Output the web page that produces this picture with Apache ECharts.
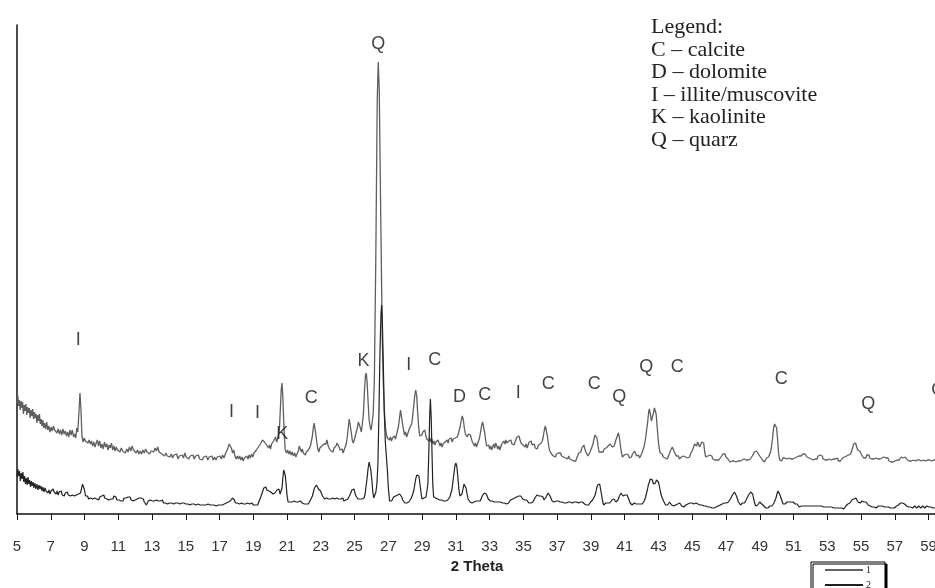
<!DOCTYPE html>
<html>
<head>
<meta charset="utf-8">
<title>XRD patterns</title>
<script src="https://cdn.jsdelivr.net/npm/echarts@6/dist/echarts.min.js"></script>
<style>
  html, body { margin: 0; padding: 0; background: #fff; }
  #main { width: 935px; height: 588px; }
</style>
</head>
<body>
<div id="main"></div>
<script type="text/javascript">
    // pattern 1 (upper, grey): [2 theta, intensity]
    var pattern1 = [
        [5.00,111],[5.05,118],[5.10,108],[5.14,114],[5.19,104],[5.24,113],[5.29,106],[5.33,112],[5.38,100],[5.43,109],
        [5.48,103],[5.53,110],[5.58,99],[5.63,107],[5.68,101],[5.73,106],[5.78,96],[5.83,104],[5.88,98],[5.93,105],
        [5.98,95],[6.03,102],[6.08,96],[6.13,100],[6.18,91],[6.23,99],[6.28,93],[6.33,100],[6.38,90],[6.43,95],
        [6.48,88],[6.53,94],[6.58,86],[6.63,91],[6.70,85],[6.76,92],[6.82,84],[6.88,88],[6.95,82],[7.02,87],
        [7.09,83],[7.16,88],[7.23,84],[7.30,86],[7.37,81],[7.44,85],[7.51,80],[7.58,84],[7.65,79],[7.72,85],
        [7.79,80],[7.86,83],[7.93,78],[8.00,82],[8.07,77],[8.14,84],[8.21,79],[8.28,84],[8.35,77],[8.42,80],
        [8.48,76],[8.54,86],[8.60,82],[8.66,99],[8.73,121],[8.79,104],[8.85,77],[8.92,72],[8.98,76],[9.05,73],
        [9.12,75],[9.20,71],[9.27,74],[9.34,70],[9.41,73],[9.48,68],[9.55,72],[9.62,67],[9.69,71],[9.76,74],
        [9.83,68],[9.90,73],[9.97,66],[10.04,70],[10.11,65],[10.18,72],[10.25,67],[10.32,70],[10.39,64],[10.46,69],
        [10.53,66],[10.60,71],[10.67,64],[10.74,68],[10.81,63],[10.88,67],[10.95,64],[11.02,66],[11.10,62],[11.18,66],
        [11.26,63],[11.34,65],[11.42,61],[11.50,65],[11.58,62],[11.66,67],[11.74,63],[11.82,68],[11.90,64],[11.98,66],
        [12.06,61],[12.14,64],[12.22,60],[12.30,63],[12.38,60],[12.46,64],[12.54,61],[12.62,65],[12.70,62],[12.78,64],
        [12.86,60],[12.94,63],[13.02,65],[13.10,62],[13.18,66],[13.26,63],[13.34,67],[13.42,62],[13.50,64],[13.58,60],
        [13.66,62],[13.74,58],[13.82,61],[13.90,58],[13.98,60],[14.06,57],[14.14,60],[14.22,56],[14.30,59],[14.38,57],
        [14.46,60],[14.54,55],[14.62,58],[14.70,56],[14.78,59],[14.86,56],[14.94,61],[15.02,57],[15.10,59],[15.18,55],
        [15.26,58],[15.34,56],[15.42,59],[15.50,55],[15.58,58],[15.66,56],[15.74,59],[15.82,55],[15.90,57],[15.98,54],
        [16.06,57],[16.14,55],[16.22,58],[16.30,54],[16.38,57],[16.46,55],[16.54,58],[16.62,54],[16.70,57],[16.78,54],
        [16.86,57],[16.94,55],[17.02,58],[17.10,55],[17.18,59],[17.26,56],[17.34,60],[17.42,62],[17.50,66],[17.57,70],
        [17.63,72],[17.70,66],[17.77,61],[17.84,64],[17.91,58],[17.98,55],[18.05,58],[18.12,55],[18.19,58],[18.26,54],
        [18.33,57],[18.40,53],[18.47,56],[18.54,54],[18.61,58],[18.68,55],[18.75,59],[18.82,56],[18.90,60],[18.97,57],
        [19.04,61],[19.11,59],[19.18,64],[19.24,62],[19.30,67],[19.36,65],[19.42,70],[19.48,68],[19.54,74],[19.60,76],
        [19.66,72],[19.72,74],[19.78,69],[19.84,71],[19.90,66],[19.96,69],[20.02,65],[20.08,70],[20.14,68],[20.20,73],
        [20.26,71],[20.32,77],[20.38,72],[20.44,75],[20.50,80],[20.55,86],[20.60,105],[20.65,124],[20.70,131],[20.74,120],
        [20.78,102],[20.83,80],[20.89,64],[20.96,61],[21.03,64],[21.10,60],[21.17,63],[21.24,59],[21.31,62],[21.38,58],
        [21.45,61],[21.52,57],[21.59,60],[21.66,63],[21.72,68],[21.78,66],[21.84,62],[21.90,65],[21.96,61],[22.02,63],
        [22.08,59],[22.14,62],[22.20,60],[22.26,64],[22.32,63],[22.38,68],[22.44,70],[22.50,78],[22.55,86],[22.60,91],
        [22.65,89],[22.70,80],[22.76,72],[22.82,65],[22.88,62],[22.94,66],[23.00,64],[23.06,68],[23.12,66],[23.18,70],
        [23.24,72],[23.30,70],[23.36,74],[23.42,69],[23.48,66],[23.54,68],[23.60,63],[23.66,65],[23.72,62],[23.78,66],
        [23.84,64],[23.90,68],[23.96,71],[24.02,72],[24.08,67],[24.14,64],[24.20,62],[24.26,65],[24.32,61],[24.38,64],
        [24.44,66],[24.50,70],[24.56,76],[24.62,86],[24.68,95],[24.74,93],[24.80,82],[24.86,74],[24.92,71],[24.98,74],
        [25.04,78],[25.10,80],[25.16,86],[25.22,92],[25.28,93],[25.34,86],[25.40,82],[25.46,84],[25.52,100],[25.58,122],
        [25.64,138],[25.69,141],[25.74,132],[25.80,112],[25.86,94],[25.92,87],[25.98,84],[26.04,86],[26.10,100],[26.17,134],
        [26.26,264],[26.34,414],[26.40,452],[26.46,424],[26.55,294],[26.64,174],[26.70,130],[26.76,104],[26.82,88],[26.88,80],
        [26.94,76],[27.00,78],[27.06,74],[27.12,77],[27.18,73],[27.24,76],[27.30,74],[27.36,78],[27.42,75],[27.48,79],
        [27.54,80],[27.60,88],[27.66,96],[27.72,104],[27.78,102],[27.84,90],[27.90,84],[27.96,79],[28.02,82],[28.08,77],
        [28.14,80],[28.20,82],[28.26,86],[28.32,84],[28.38,90],[28.44,98],[28.50,108],[28.56,118],[28.62,124],[28.68,118],
        [28.74,100],[28.80,86],[28.86,78],[28.92,76],[28.98,79],[29.04,82],[29.10,80],[29.16,84],[29.22,78],[29.28,75],
        [29.34,77],[29.40,73],[29.46,76],[29.52,72],[29.58,75],[29.64,70],[29.70,73],[29.76,69],[29.82,72],[29.88,70],
        [29.94,74],[30.00,71],[30.06,68],[30.12,71],[30.18,67],[30.24,70],[30.30,68],[30.36,72],[30.42,70],[30.48,74],
        [30.54,71],[30.60,75],[30.66,73],[30.72,76],[30.78,72],[30.84,75],[30.90,73],[30.96,76],[31.02,74],[31.08,77],
        [31.14,80],[31.20,84],[31.26,88],[31.32,94],[31.38,98],[31.44,94],[31.50,86],[31.56,80],[31.62,82],[31.68,77],
        [31.74,80],[31.80,82],[31.86,79],[31.92,75],[31.98,72],[32.04,70],[32.10,68],[32.16,71],[32.22,67],[32.28,70],
        [32.34,72],[32.40,76],[32.46,82],[32.52,88],[32.58,92],[32.64,91],[32.70,82],[32.76,74],[32.82,68],[32.88,66],
        [32.94,69],[33.00,65],[33.06,68],[33.12,64],[33.18,67],[33.24,70],[33.30,66],[33.36,71],[33.42,68],[33.48,65],
        [33.54,68],[33.60,64],[33.66,67],[33.72,70],[33.78,68],[33.84,73],[33.90,70],[33.96,74],[34.02,71],[34.08,69],
        [34.14,73],[34.20,71],[34.26,74],[34.32,70],[34.38,72],[34.44,69],[34.50,72],[34.56,74],[34.62,77],[34.68,75],
        [34.74,78],[34.80,74],[34.86,71],[34.92,73],[34.98,69],[35.04,71],[35.10,67],[35.16,70],[35.22,66],[35.28,69],
        [35.34,72],[35.40,70],[35.46,73],[35.52,69],[35.58,67],[35.64,70],[35.70,66],[35.76,68],[35.82,65],[35.88,69],
        [35.94,67],[36.00,70],[36.06,68],[36.12,73],[36.18,78],[36.24,84],[36.30,88],[36.36,87],[36.42,78],[36.48,70],
        [36.54,64],[36.60,62],[36.66,60],[36.72,62],[36.78,58],[36.84,60],[36.90,57],[36.96,60],[37.02,58],[37.08,61],
        [37.14,59],[37.20,61],[37.26,58],[37.32,60],[37.38,57],[37.44,59],[37.50,56],[37.56,58],[37.62,55],[37.68,58],
        [37.74,55],[37.80,57],[37.86,54],[37.92,56],[37.98,53],[38.04,55],[38.10,53],[38.16,56],[38.22,58],[38.28,61],
        [38.34,63],[38.40,62],[38.46,66],[38.52,68],[38.58,69],[38.64,65],[38.70,62],[38.76,60],[38.82,58],[38.88,60],
        [38.94,62],[39.00,64],[39.06,67],[39.12,70],[39.18,75],[39.24,79],[39.30,81],[39.36,76],[39.42,68],[39.48,62],
        [39.54,60],[39.60,62],[39.66,64],[39.72,62],[39.78,65],[39.84,63],[39.90,66],[39.96,64],[40.02,68],[40.08,66],
        [40.14,70],[40.20,71],[40.26,67],[40.32,65],[40.38,68],[40.44,72],[40.50,74],[40.56,78],[40.62,81],[40.68,77],
        [40.74,69],[40.80,62],[40.86,57],[40.92,56],[40.98,59],[41.04,57],[41.10,60],[41.16,58],[41.22,59],[41.28,56],
        [41.34,58],[41.40,57],[41.46,60],[41.52,61],[41.58,63],[41.64,61],[41.70,58],[41.76,57],[41.82,59],[41.88,56],
        [41.94,57],[42.00,60],[42.06,63],[42.12,66],[42.18,70],[42.24,76],[42.30,84],[42.36,92],[42.42,102],[42.46,105],
        [42.52,100],[42.58,93],[42.64,94],[42.70,101],[42.76,106],[42.81,108],[42.86,100],[42.92,88],[42.98,75],[43.04,66],
        [43.10,61],[43.16,59],[43.22,60],[43.28,57],[43.34,59],[43.40,56],[43.46,58],[43.52,55],[43.58,57],[43.64,60],
        [43.70,63],[43.76,64],[43.82,67],[43.88,66],[43.94,62],[44.00,60],[44.06,58],[44.12,56],[44.18,58],[44.24,55],
        [44.30,54],[44.36,57],[44.42,55],[44.48,58],[44.54,60],[44.60,57],[44.66,59],[44.72,56],[44.78,58],[44.84,57],
        [44.90,60],[44.96,62],[45.02,64],[45.08,66],[45.14,70],[45.20,71],[45.26,68],[45.32,72],[45.38,70],[45.44,67],
        [45.50,69],[45.56,72],[45.62,74],[45.68,71],[45.74,62],[45.80,57],[45.86,56],[45.92,58],[45.98,56],[46.04,59],
        [46.10,57],[46.16,58],[46.22,55],[46.28,57],[46.34,54],[46.40,56],[46.46,54],[46.52,56],[46.58,54],[46.64,55],
        [46.70,57],[46.76,59],[46.82,60],[46.88,62],[46.94,60],[47.00,57],[47.06,58],[47.12,55],[47.18,53],[47.24,52],
        [47.30,54],[47.36,53],[47.42,55],[47.48,53],[47.54,54],[47.60,52],[47.66,54],[47.72,53],[47.78,55],[47.84,53],
        [47.90,52],[47.96,54],[48.02,53],[48.08,55],[48.14,53],[48.20,54],[48.26,52],[48.32,54],[48.38,53],[48.44,55],
        [48.50,57],[48.56,58],[48.62,60],[48.68,62],[48.74,64],[48.80,63],[48.86,62],[48.92,60],[48.98,58],[49.04,57],
        [49.10,55],[49.16,54],[49.22,53],[49.28,52],[49.34,54],[49.40,56],[49.46,55],[49.52,57],[49.58,58],[49.64,62],
        [49.70,68],[49.76,76],[49.82,86],[49.88,90],[49.94,91],[50.00,86],[50.06,74],[50.12,60],[50.18,54],[50.24,55],
        [50.30,53],[50.36,56],[50.42,54],[50.48,56],[50.54,54],[50.60,55],[50.66,53],[50.72,56],[50.78,54],[50.84,55],
        [50.90,53],[50.96,55],[51.02,54],[51.08,56],[51.14,55],[51.20,57],[51.26,55],[51.32,58],[51.38,56],[51.44,58],
        [51.50,59],[51.56,60],[51.62,58],[51.68,60],[51.74,58],[51.80,57],[51.86,59],[51.92,56],[51.98,57],[52.04,55],
        [52.10,57],[52.16,54],[52.22,56],[52.28,55],[52.34,57],[52.40,55],[52.46,58],[52.52,56],[52.58,59],[52.64,57],
        [52.70,58],[52.76,55],[52.82,57],[52.88,54],[52.94,56],[53.00,54],[53.06,56],[53.12,55],[53.18,57],[53.24,54],
        [53.30,56],[53.36,55],[53.42,53],[53.48,55],[53.54,54],[53.60,56],[53.66,53],[53.72,55],[53.78,53],[53.84,55],
        [53.90,56],[53.96,54],[54.02,57],[54.08,55],[54.14,58],[54.20,56],[54.26,59],[54.32,58],[54.38,60],[54.44,63],
        [54.50,66],[54.56,70],[54.62,72],[54.68,71],[54.74,67],[54.80,64],[54.86,62],[54.92,63],[54.98,61],[55.04,59],
        [55.10,58],[55.16,56],[55.22,58],[55.28,56],[55.34,59],[55.40,57],[55.46,59],[55.52,56],[55.58,58],[55.64,55],
        [55.70,57],[55.76,55],[55.82,54],[55.88,56],[55.94,54],[56.00,55],[56.06,53],[56.12,55],[56.18,54],[56.24,56],
        [56.30,58],[56.36,57],[56.42,55],[56.48,56],[56.54,54],[56.60,56],[56.66,53],[56.72,55],[56.78,52],[56.84,54],
        [56.90,52],[56.96,54],[57.02,53],[57.08,55],[57.14,54],[57.20,56],[57.26,54],[57.32,55],[57.38,57],[57.44,55],
        [57.50,56],[57.56,58],[57.62,57],[57.68,55],[57.74,54],[57.80,56],[57.86,53],[57.92,55],[57.98,53],[58.04,55],
        [58.10,54],[58.16,56],[58.22,53],[58.28,55],[58.34,54],[58.40,56],[58.46,54],[58.52,55],[58.58,53],[58.64,55],
        [58.70,54],[58.76,56],[58.82,53],[58.88,55],[58.94,54],[59.00,56],[59.06,54],[59.12,55],[59.18,53],[59.24,55],
        [59.30,54],[59.36,56],[59.42,54],[59.50,55]
    ];

    // pattern 2 (lower, dark): [2 theta, intensity]
    var pattern2 = [
        [5.00,37],[5.05,45],[5.10,38],[5.15,43],[5.20,33],[5.25,41],[5.30,35],[5.35,42],[5.40,32],[5.45,38],
        [5.50,30],[5.55,36],[5.60,29],[5.65,37],[5.70,30],[5.75,34],[5.80,27],[5.85,33],[5.90,28],[5.95,32],
        [6.00,26],[6.06,31],[6.12,25],[6.18,30],[6.24,24],[6.30,29],[6.36,25],[6.42,28],[6.48,23],[6.54,27],
        [6.60,22],[6.66,26],[6.72,23],[6.78,25],[6.84,21],[6.90,24],[6.96,20],[7.02,23],[7.08,21],[7.14,25],
        [7.20,22],[7.26,24],[7.32,20],[7.38,23],[7.44,19],[7.50,22],[7.56,20],[7.62,23],[7.68,19],[7.74,21],
        [7.80,18],[7.86,21],[7.92,19],[7.98,22],[8.04,19],[8.10,21],[8.16,18],[8.22,20],[8.28,19],[8.34,21],
        [8.40,18],[8.46,20],[8.52,19],[8.58,21],[8.64,20],[8.70,22],[8.76,21],[8.82,25],[8.88,30],[8.94,32],
        [9.00,24],[9.06,18],[9.12,16],[9.18,18],[9.24,15],[9.30,17],[9.36,16],[9.42,18],[9.48,15],[9.54,17],
        [9.60,16],[9.66,18],[9.72,15],[9.78,17],[9.84,14],[9.90,17],[9.96,15],[10.02,18],[10.08,16],[10.14,19],
        [10.20,16],[10.26,18],[10.32,15],[10.38,17],[10.44,14],[10.50,16],[10.56,15],[10.62,17],[10.68,15],[10.74,18],
        [10.80,16],[10.86,17],[10.92,14],[10.98,16],[11.04,14],[11.10,16],[11.16,13],[11.22,15],[11.28,13],[11.34,16],
        [11.40,14],[11.46,16],[11.52,14],[11.58,17],[11.64,15],[11.70,17],[11.76,14],[11.82,16],[11.88,13],[11.94,15],
        [12.00,14],[12.06,16],[12.12,15],[12.18,17],[12.24,16],[12.30,18],[12.36,16],[12.42,17],[12.48,15],[12.54,12],
        [12.60,10],[12.66,9],[12.72,11],[12.78,13],[12.84,12],[12.90,14],[12.96,12],[13.02,13],[13.08,11],[13.14,13],
        [13.20,12],[13.26,14],[13.32,12],[13.38,13],[13.44,11],[13.50,13],[13.56,12],[13.62,14],[13.68,11],[13.74,13],
        [13.80,11],[13.86,12],[13.92,10],[13.98,12],[14.04,11],[14.10,13],[14.16,11],[14.22,12],[14.28,10],[14.34,12],
        [14.40,11],[14.46,13],[14.52,11],[14.58,12],[14.64,10],[14.70,12],[14.76,11],[14.82,13],[14.88,11],[14.94,12],
        [15.00,10],[15.06,12],[15.12,10],[15.18,11],[15.24,9],[15.30,11],[15.36,10],[15.42,12],[15.48,10],[15.54,11],
        [15.60,9],[15.66,11],[15.72,10],[15.78,12],[15.84,9],[15.90,10],[15.96,9],[16.02,11],[16.08,9],[16.14,10],
        [16.20,9],[16.26,11],[16.32,10],[16.38,11],[16.44,9],[16.50,10],[16.56,9],[16.62,11],[16.68,9],[16.74,10],
        [16.80,8],[16.86,10],[16.92,9],[16.98,11],[17.04,9],[17.10,10],[17.16,9],[17.22,11],[17.28,10],[17.34,12],
        [17.40,11],[17.46,13],[17.52,12],[17.58,14],[17.64,13],[17.70,15],[17.76,16],[17.82,17],[17.88,14],[17.94,11],
        [18.00,10],[18.06,11],[18.12,9],[18.18,10],[18.24,9],[18.30,11],[18.36,9],[18.42,10],[18.48,8],[18.54,10],
        [18.60,9],[18.66,11],[18.72,9],[18.78,10],[18.84,9],[18.90,11],[18.96,10],[19.02,9],[19.08,11],[19.14,9],
        [19.20,10],[19.26,9],[19.32,12],[19.38,14],[19.44,17],[19.50,20],[19.56,23],[19.62,26],[19.68,25],[19.74,27],
        [19.80,24],[19.86,26],[19.92,23],[19.98,25],[20.04,22],[20.10,24],[20.16,20],[20.22,19],[20.28,21],[20.34,20],
        [20.40,24],[20.46,26],[20.52,25],[20.58,20],[20.64,18],[20.70,26],[20.75,36],[20.80,44],[20.85,46],[20.90,38],
        [20.95,28],[21.00,18],[21.06,12],[21.12,11],[21.18,12],[21.24,10],[21.30,12],[21.36,11],[21.42,13],[21.48,11],
        [21.54,12],[21.60,10],[21.66,12],[21.72,11],[21.78,13],[21.84,12],[21.90,11],[21.96,13],[22.02,10],[22.08,12],
        [22.14,10],[22.20,11],[22.26,10],[22.32,12],[22.38,14],[22.44,16],[22.50,18],[22.56,22],[22.62,26],[22.68,28],
        [22.74,29],[22.80,27],[22.86,25],[22.92,26],[22.98,23],[23.04,21],[23.10,18],[23.16,17],[23.22,15],[23.28,14],
        [23.34,16],[23.40,14],[23.46,15],[23.52,13],[23.58,15],[23.64,14],[23.70,16],[23.76,14],[23.82,15],[23.88,13],
        [23.94,16],[24.00,14],[24.06,15],[24.12,13],[24.18,15],[24.24,14],[24.30,16],[24.36,13],[24.42,15],[24.48,14],
        [24.54,16],[24.60,15],[24.66,17],[24.72,19],[24.78,21],[24.84,24],[24.90,26],[24.96,25],[25.02,21],[25.08,18],
        [25.14,16],[25.20,15],[25.26,14],[25.32,15],[25.38,13],[25.44,15],[25.50,14],[25.56,16],[25.62,20],[25.68,28],
        [25.74,36],[25.80,46],[25.86,52],[25.90,53],[25.96,44],[26.02,34],[26.08,22],[26.13,16],[26.20,18],[26.26,22],
        [26.32,30],[26.38,50],[26.44,100],[26.50,160],[26.56,200],[26.60,209],[26.64,195],[26.70,150],[26.76,100],[26.82,72],
        [26.88,58],[26.94,44],[27.00,26],[27.07,13],[27.13,14],[27.19,13],[27.25,15],[27.31,17],[27.37,16],[27.43,18],
        [27.49,17],[27.55,19],[27.61,18],[27.67,20],[27.73,19],[27.79,17],[27.85,14],[27.91,12],[27.97,11],[28.03,12],
        [28.09,11],[28.15,13],[28.21,12],[28.27,14],[28.33,15],[28.39,17],[28.45,20],[28.51,24],[28.57,30],[28.63,36],
        [28.69,39],[28.75,41],[28.81,38],[28.87,30],[28.93,22],[28.99,15],[29.05,14],[29.11,16],[29.17,15],[29.23,17],
        [29.29,19],[29.34,30],[29.40,64],[29.45,100],[29.49,115],[29.54,95],[29.58,64],[29.63,30],[29.68,17],[29.74,15],
        [29.80,16],[29.86,14],[29.92,15],[29.98,13],[30.04,14],[30.10,13],[30.16,14],[30.22,12],[30.28,13],[30.34,12],
        [30.40,13],[30.46,12],[30.52,14],[30.58,15],[30.64,17],[30.70,19],[30.76,24],[30.82,32],[30.88,40],[30.94,48],
        [31.00,51],[31.06,47],[31.12,36],[31.18,24],[31.24,18],[31.30,17],[31.36,20],[31.42,25],[31.48,30],[31.54,31],
        [31.60,26],[31.66,20],[31.72,15],[31.78,13],[31.84,12],[31.90,13],[31.96,11],[32.02,13],[32.08,12],[32.14,14],
        [32.20,13],[32.26,12],[32.32,13],[32.38,11],[32.44,13],[32.50,15],[32.56,18],[32.62,20],[32.68,21],[32.74,22],
        [32.80,20],[32.86,18],[32.92,15],[32.98,14],[33.04,13],[33.10,12],[33.16,13],[33.22,11],[33.28,12],[33.34,11],
        [33.40,12],[33.46,10],[33.52,12],[33.58,11],[33.64,12],[33.70,10],[33.76,11],[33.82,9],[33.88,11],[33.94,9],
        [34.00,10],[34.06,9],[34.12,11],[34.18,12],[34.24,14],[34.30,13],[34.36,15],[34.42,14],[34.48,16],[34.54,15],
        [34.60,17],[34.66,16],[34.72,18],[34.78,19],[34.84,18],[34.90,16],[34.96,15],[35.02,16],[35.08,14],[35.14,13],
        [35.20,14],[35.26,12],[35.32,11],[35.38,12],[35.44,11],[35.50,13],[35.56,12],[35.62,14],[35.68,16],[35.74,18],
        [35.80,19],[35.86,21],[35.92,18],[35.98,16],[36.04,18],[36.10,19],[36.16,17],[36.22,14],[36.28,15],[36.34,17],
        [36.40,19],[36.46,21],[36.52,20],[36.58,18],[36.64,16],[36.70,13],[36.76,11],[36.82,12],[36.88,11],[36.94,13],
        [37.00,12],[37.06,13],[37.12,11],[37.18,12],[37.24,11],[37.30,12],[37.36,10],[37.42,11],[37.48,10],[37.54,11],
        [37.60,10],[37.66,12],[37.72,11],[37.78,12],[37.84,10],[37.90,11],[37.96,10],[38.02,12],[38.08,11],[38.14,12],
        [38.20,10],[38.26,11],[38.32,10],[38.38,12],[38.44,11],[38.50,12],[38.56,11],[38.62,10],[38.68,11],[38.74,9],
        [38.80,10],[38.86,9],[38.92,11],[38.98,12],[39.04,13],[39.10,14],[39.16,16],[39.22,18],[39.28,21],[39.34,26],
        [39.40,29],[39.46,31],[39.52,30],[39.58,24],[39.64,18],[39.70,12],[39.76,9],[39.82,10],[39.88,11],[39.94,10],
        [40.00,11],[40.06,12],[40.12,11],[40.18,13],[40.24,14],[40.30,16],[40.36,15],[40.42,13],[40.48,12],[40.54,13],
        [40.60,14],[40.66,17],[40.72,19],[40.78,21],[40.84,20],[40.90,18],[40.96,20],[41.02,19],[41.08,18],[41.14,19],
        [41.20,17],[41.26,14],[41.32,11],[41.38,10],[41.44,9],[41.50,10],[41.56,11],[41.62,9],[41.68,10],[41.74,11],
        [41.80,10],[41.86,9],[41.92,10],[41.98,9],[42.04,10],[42.10,11],[42.16,13],[42.22,16],[42.28,20],[42.34,24],
        [42.40,29],[42.46,32],[42.52,35],[42.58,37],[42.64,34],[42.70,30],[42.76,32],[42.82,31],[42.88,34],[42.94,33],
        [43.00,32],[43.06,27],[43.12,22],[43.18,18],[43.24,16],[43.30,13],[43.36,11],[43.42,9],[43.48,8],[43.54,9],
        [43.60,10],[43.66,12],[43.72,11],[43.78,9],[43.84,10],[43.90,8],[43.96,10],[44.02,9],[44.08,11],[44.14,10],
        [44.20,9],[44.26,11],[44.32,9],[44.38,8],[44.44,9],[44.50,7],[44.56,8],[44.62,9],[44.68,11],[44.74,10],
        [44.80,9],[44.86,11],[44.92,10],[44.98,11],[45.04,9],[45.10,10],[45.16,12],[45.22,11],[45.28,12],[45.34,10],
        [45.40,11],[45.46,9],[45.52,10],[45.58,9],[45.64,10],[45.70,8],[45.76,9],[45.82,8],[45.88,9],[45.94,7],
        [46.00,8],[46.06,7],[46.12,8],[46.18,6],[46.24,7],[46.30,6],[46.36,8],[46.42,7],[46.48,9],[46.54,8],
        [46.60,10],[46.66,9],[46.72,11],[46.78,10],[46.84,12],[46.90,11],[46.96,12],[47.02,11],[47.08,13],[47.14,12],
        [47.20,14],[47.26,15],[47.32,17],[47.38,19],[47.44,21],[47.50,22],[47.56,21],[47.62,18],[47.68,15],[47.74,12],
        [47.80,10],[47.86,9],[47.92,10],[47.98,11],[48.04,12],[48.10,11],[48.16,13],[48.22,15],[48.28,17],[48.34,19],
        [48.40,21],[48.46,22],[48.52,23],[48.58,20],[48.64,15],[48.70,11],[48.76,8],[48.82,7],[48.88,9],[48.94,11],
        [49.00,12],[49.06,11],[49.12,10],[49.18,9],[49.24,8],[49.30,7],[49.36,6],[49.42,7],[49.48,6],[49.54,7],
        [49.60,8],[49.66,7],[49.72,8],[49.78,9],[49.84,11],[49.90,13],[49.96,16],[50.02,20],[50.08,23],[50.14,22],
        [50.20,19],[50.26,17],[50.32,13],[50.38,10],[50.44,9],[50.50,10],[50.56,11],[50.62,12],[50.68,11],[50.74,12],
        [50.80,13],[50.86,12],[50.92,11],[50.98,12],[51.04,11],[51.10,10],[51.16,9],[51.22,10],[51.28,8],[51.34,7],
        [51.40,7],[51.46,8],[51.52,9],[51.58,8],[51.64,9],[51.70,8],[51.76,9],[51.82,8],[51.88,7],[51.94,8],
        [52.00,7],[52.06,8],[52.12,7],[52.18,8],[52.24,7],[52.30,8],[52.36,9],[52.42,8],[52.48,7],[52.54,8],
        [52.60,7],[52.66,8],[52.72,6],[52.78,7],[52.84,6],[52.90,7],[52.96,8],[53.02,7],[53.08,6],[53.14,7],
        [53.20,6],[53.26,7],[53.32,5],[53.38,6],[53.44,7],[53.50,6],[53.56,5],[53.62,6],[53.68,7],[53.74,6],
        [53.80,5],[53.86,6],[53.92,4],[53.98,5],[54.04,6],[54.10,8],[54.16,9],[54.22,10],[54.28,12],[54.34,11],
        [54.40,13],[54.46,14],[54.52,12],[54.58,15],[54.64,13],[54.70,16],[54.76,14],[54.82,12],[54.88,13],[54.94,11],
        [55.00,12],[55.06,13],[55.12,11],[55.18,12],[55.24,14],[55.30,12],[55.36,10],[55.42,9],[55.48,10],[55.54,8],
        [55.60,9],[55.66,7],[55.72,8],[55.78,7],[55.84,8],[55.90,6],[55.96,7],[56.02,8],[56.08,9],[56.14,8],
        [56.20,7],[56.26,8],[56.32,6],[56.38,7],[56.44,6],[56.50,7],[56.56,6],[56.62,7],[56.68,5],[56.74,6],
        [56.80,7],[56.86,6],[56.92,5],[56.98,6],[57.04,7],[57.10,8],[57.16,7],[57.22,9],[57.28,10],[57.34,11],
        [57.40,12],[57.46,11],[57.52,12],[57.58,10],[57.64,9],[57.70,8],[57.76,9],[57.82,7],[57.88,8],[57.94,7],
        [58.00,8],[58.06,6],[58.12,7],[58.18,8],[58.24,7],[58.30,6],[58.36,7],[58.42,8],[58.48,7],[58.54,6],
        [58.60,7],[58.66,8],[58.72,7],[58.78,6],[58.84,7],[58.90,8],[58.96,6],[59.02,7],[59.08,6],[59.14,7],
        [59.20,8],[59.26,6],[59.32,7],[59.38,6],[59.44,7],[59.50,6]
    ];

    // peak letters
    var peakText  = ['I', 'I', 'I', 'K', 'C', 'K', 'Q', 'I', 'C', 'D', 'C', 'I', 'C', 'C', 'Q', 'Q', 'C', 'C', 'Q', 'C'];
    var peakTheta = [8.63, 17.70, 19.24, 20.72, 22.43, 25.52, 26.40, 28.20, 29.74, 31.22, 32.71, 34.70, 36.47, 39.20, 40.68, 42.28, 44.12, 50.28, 55.43, 59.55];
    var peakY     = [174, 102, 101, 80, 116, 153, 470, 149, 154, 117, 119, 121, 130, 130, 117, 147, 147, 135, 110, 124];

    var legendLines = ['Legend:', 'C \u2013 calcite', 'D \u2013 dolomite', 'I \u2013 illite/muscovite', 'K \u2013 kaolinite', 'Q \u2013 quarz'];

    var peakData = [];
    for (var i = 0; i < peakText.length; ++i) {
        peakData.push([peakTheta[i], peakY[i], peakText[i]]);
    }

    var myChart = echarts.init(document.getElementById('main'), null, { renderer: 'canvas' });
    myChart.setOption({
        animation: false,
        backgroundColor: '#fff',
        title: {
            text: legendLines.join('\n'),
            left: 651,
            top: 16,
            padding: 0,
            textStyle: {
                fontFamily: '"Liberation Serif", "DejaVu Serif", serif',
                fontSize: 22,
                fontWeight: 'normal',
                lineHeight: 22.6,
                color: '#222'
            }
        },
        legend: {
            data: ['1', '2'],
            orient: 'vertical',
            left: 811,
            top: 562,
            height: 40,
            itemWidth: 38,
            itemHeight: 8,
            itemGap: 5,
            padding: [3, 14, 2, 13],
            borderColor: '#000',
            borderWidth: 1,
            backgroundColor: '#fff',
            shadowColor: '#000',
            shadowOffsetX: 2,
            shadowOffsetY: 2,
            shadowBlur: 0,
            selectedMode: false,
            itemStyle: { color: 'rgba(0,0,0,0)', borderWidth: 0, opacity: 0 },
            textStyle: {
                fontFamily: '"Liberation Serif", serif',
                fontSize: 10,
                lineHeight: 10,
                color: '#222',
                padding: [0, 0, 0, -2]
            }
        },
        grid: {
            left: 17,
            right: -2,
            top: 25,
            bottom: 74,
            outerBoundsMode: 'none'
        },
        xAxis: {
            type: 'value',
            min: 5,
            max: 59.5,
            interval: 2,
            name: '2 Theta',
            nameLocation: 'middle',
            nameGap: 44,
            nameTextStyle: {
                fontFamily: '"Liberation Sans", Arial, sans-serif',
                fontSize: 15,
                fontWeight: 'bold',
                color: '#222'
            },
            axisLine: { lineStyle: { color: '#111', width: 1.5 } },
            axisTick: { length: 6, lineStyle: { color: '#111', width: 1 } },
            axisLabel: {
                margin: 25,
                showMaxLabel: false,
                fontFamily: '"Liberation Sans", Arial, sans-serif',
                fontSize: 15,
                color: '#333'
            },
            splitLine: { show: false }
        },
        yAxis: {
            type: 'value',
            min: 0,
            max: 489,
            axisLine: { show: true, lineStyle: { color: '#111', width: 1.5 } },
            axisTick: { show: false },
            axisLabel: { show: false },
            splitLine: { show: false }
        },
        series: [
            {
                name: '1',
                type: 'line',
                data: pattern1,
                symbol: 'none',
                lineStyle: { color: '#5f5f5f', width: 1.3 },
                itemStyle: { color: '#5f5f5f' },
                z: 2
            },
            {
                name: '2',
                type: 'line',
                data: pattern2,
                symbol: 'none',
                lineStyle: { color: '#222', width: 1.2 },
                itemStyle: { color: '#222' },
                z: 3
            },
            {
                type: 'scatter',
                data: peakData,
                symbolSize: 0,
                clip: false,
                silent: true,
                label: {
                    show: true,
                    position: 'inside',
                    formatter: function (p) { return p.value[2]; },
                    fontFamily: '"Liberation Sans", Arial, sans-serif',
                    fontSize: 18,
                    color: '#111'
                },
                z: 4
            }
        ]
    });
</script>
</body>
</html>
